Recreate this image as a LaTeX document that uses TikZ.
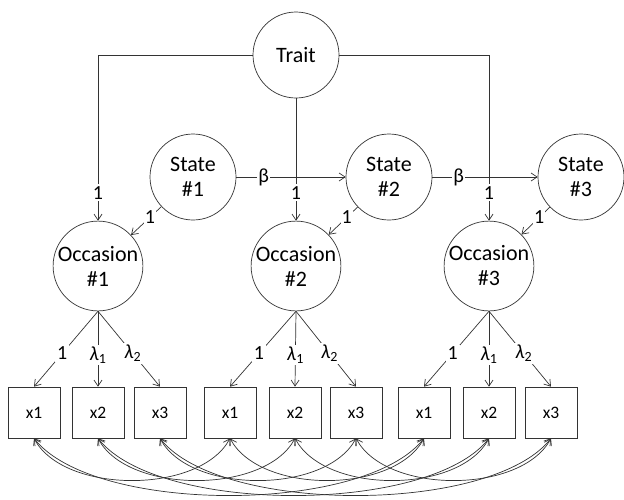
\documentclass[tikz,border=0pt]{standalone}
\usepackage{fontspec}
\setmainfont{Carlito}
\usetikzlibrary{arrows.meta}
\begin{document}
\begin{tikzpicture}[x=1pt,y=-1pt,
  line width=0.7pt, draw=black!80,
  >={Straight Barb[length=6pt,width=8pt]},
  latent/.style={circle, draw=black!80, minimum size=86pt, inner sep=0pt, align=center, font=\fontsize{22}{25}\selectfont},
  manifest/.style={rectangle, draw=black!80, minimum width=52pt, minimum height=51pt, inner sep=0pt, font=\fontsize{17.5}{20}\selectfont},
  lab/.style={fill=white, inner sep=2pt, font=\fontsize{20}{22}\selectfont},
  path/.style={draw=black!80, ->}
]
\useasboundingbox (0,0) rectangle (624,499);
% latent variables
\node[latent] (T) at (296,55) {Trait};
\node[latent] (S1) at (193,177) {State\\\#1};
\node[latent] (S2) at (389,177) {State\\\#2};
\node[latent] (S3) at (581,177) {State\\\#3};
\node[latent] (O1) at (98,266) {Occasion\\\#1};
\node[latent] (O2) at (296,266) {Occasion\\\#2};
\node[latent] (O3) at (489,266) {Occasion\\\#3};
% manifest variables
\foreach \o/\a/\b/\c in {1/34/98/160, 2/230/295/356, 3/424/489/551}{
  \node[manifest] (b\o1) at (\a,412.5) {x1};
  \node[manifest] (b\o2) at (\b,412.5) {x2};
  \node[manifest] (b\o3) at (\c,412.5) {x3};
}
% trait paths
\draw[path] (T) -| node[lab, pos=0.915] {1} (O1);
\draw[path] (T) -- node[lab, pos=0.77] {1} (O2);
\draw[path] (T) -| node[lab, pos=0.915] {1} (O3);
% autoregressive paths
\draw[path] (S1) -- node[lab, pos=0.25, inner sep=1pt] {β} (S2);
\draw[path] (S2) -- node[lab, pos=0.25, inner sep=1pt] {β} (S3);
% state to occasion
\draw[path] (S1) -- node[lab, pos=0.38, inner sep=1pt] {1} (O1);
\draw[path] (S2) -- node[lab, pos=0.38, inner sep=1pt] {1} (O2);
\draw[path] (S3) -- node[lab, pos=0.38, inner sep=1pt] {1} (O3);
% loadings
\foreach \o in {1,2,3}{
  \draw[path] (O\o.south) -- node[lab, pos=0.56] {1} (b\o1.north);
  \draw[path] (O\o.south) -- node[lab, pos=0.58] {\textit{λ}\textsubscript{1}} (b\o2.north);
  \draw[path] (O\o.south) -- node[lab, pos=0.56] {\textit{λ}\textsubscript{2}} (b\o3.north);
}
% correlated residuals
\foreach \i in {1,2,3}{
  \draw[<->] (b1\i.south) .. controls +(30,56) and +(-30,56) .. (b2\i.south);
  \draw[<->] (b2\i.south) .. controls +(30,56) and +(-30,56) .. (b3\i.south);
  \draw[<->] (b1\i.south) .. controls +(60,76) and +(-60,76) .. (b3\i.south);
}
\end{tikzpicture}
\end{document}
